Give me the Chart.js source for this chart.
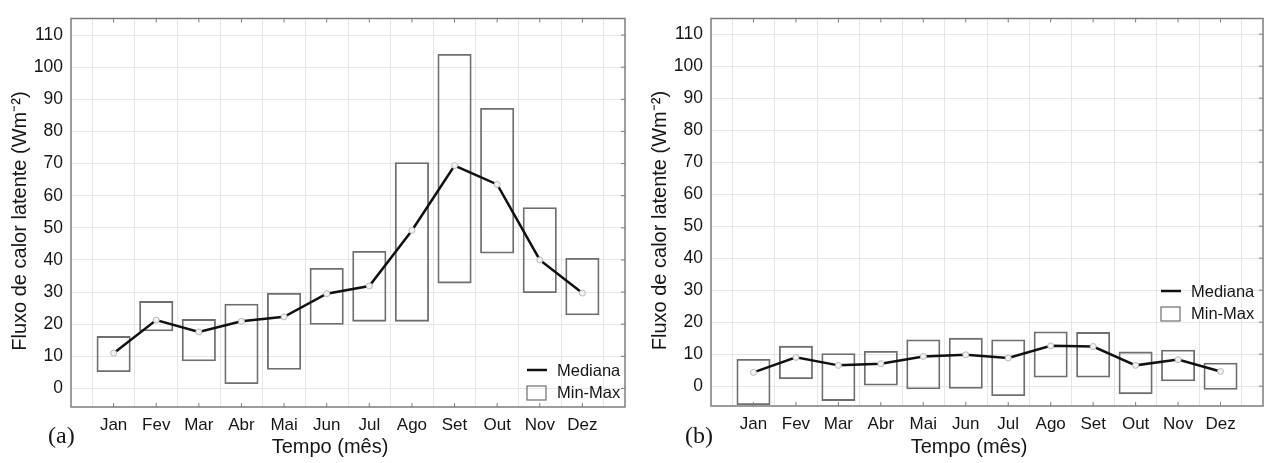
<!DOCTYPE html>
<html>
<head>
<meta charset="utf-8">
<script src="https://cdn.jsdelivr.net/npm/chart.js@4/dist/chart.umd.min.js"></script>
<style>
    body { margin: 0; background: #fff; width: 1267px; height: 463px; position: relative; overflow: hidden; }
    canvas { position: absolute; top: 0; }
    #chart-a { left: 0; }
    #chart-b { left: 640px; }
</style>
</head>
<body>
<canvas id="chart-a" width="633" height="463"></canvas>
<canvas id="chart-b" width="631" height="463"></canvas>
<script>
// Month labels and y ticks
const months = ['Jan', 'Fev', 'Mar', 'Abr', 'Mai', 'Jun', 'Jul', 'Ago', 'Set', 'Out', 'Nov', 'Dez'];
const yTicks = [0, 10, 20, 30, 40, 50, 60, 70, 80, 90, 100, 110];

// Panel (a) values
const minA = [5.1, 17.8, 8.5, 1.4, 5.8, 19.8, 20.8, 20.8, 32.7, 42.0, 29.7, 22.8];
const maxA = [16.3, 27.2, 21.6, 26.4, 29.7, 37.5, 42.8, 70.4, 104.1, 87.3, 56.4, 40.6];
const medA = [11.0, 21.3, 17.6, 20.9, 22.3, 29.5, 31.9, 49.2, 69.4, 63.5, 40.0, 29.7];

// Panel (b) values
const minB = [-5.9, 2.2, -4.6, 0.2, -1.0, -0.8, -3.1, 2.7, 2.7, -2.5, 1.5, -1.1];
const maxB = [8.5, 12.6, 10.3, 11.0, 14.6, 15.1, 14.6, 17.1, 16.9, 10.8, 11.4, 7.3];
const medB = [4.3, 9.0, 6.5, 7.0, 9.3, 9.8, 8.8, 12.6, 12.4, 6.5, 8.3, 4.6];

const textColor = '#161616';
const gridColor = '#e6e6e6';
const frameColor = '#7c7c7c';
const boxColor = '#6e6e6e';
const sans = '"Liberation Sans", Arial, sans-serif';

// empty slot on each side so Jan/Dez sit one full month from the frame
const labels = [''].concat(months, ['']);
function pad(arr) {
    return [null].concat(arr, [null]);
}

// frame, small inner ticks, x title, panel tag and the legend inside the plot
const panelText = {
    id: 'panelText',
    afterDraw(chart, args, opts) {
        const ctx = chart.ctx;
        const area = chart.chartArea;
        const xs = chart.scales.x;
        const ys = chart.scales.y;
        ctx.save();

        ctx.strokeStyle = frameColor;
        ctx.lineWidth = 1.5;
        ctx.strokeRect(area.left, area.top, area.right - area.left, area.bottom - area.top);

        // tick marks on top/bottom at months and on the right at y ticks
        ctx.lineWidth = 1;
        ctx.beginPath();
        for (let i = 1; i <= months.length; i++) {
            const px = xs.getPixelForValue(i);
            ctx.moveTo(px, area.top);
            ctx.lineTo(px, area.top + 4);
            ctx.moveTo(px, area.bottom);
            ctx.lineTo(px, area.bottom - 4);
        }
        yTicks.forEach(v => {
            const py = ys.getPixelForValue(v);
            ctx.moveTo(area.right, py);
            ctx.lineTo(area.right - 4, py);
        });
        ctx.stroke();

        ctx.fillStyle = textColor;
        ctx.textAlign = 'center';
        ctx.textBaseline = 'middle';
        ctx.font = '20px ' + sans;
        ctx.fillText('Tempo (mês)', (area.left + area.right) / 2 - 18, 447);

        ctx.textAlign = 'left';
        ctx.font = '24px "Liberation Serif", "Times New Roman", serif';
        ctx.fillText(opts.tag, opts.tagX, 437);

        // legend
        const tx = area.right - opts.legendRight;
        const y1 = area.bottom - opts.legendBottom;
        const y2 = y1 + 22;
        ctx.font = '16.5px ' + sans;
        ctx.fillText(chart.data.datasets[0].label, tx, y1);
        ctx.fillText(chart.data.datasets[1].label, tx, y2);
        ctx.strokeStyle = '#111';
        ctx.lineWidth = 2.5;
        ctx.beginPath();
        ctx.moveTo(tx - 30, y1 - 1);
        ctx.lineTo(tx - 10, y1 - 1);
        ctx.stroke();
        ctx.strokeStyle = boxColor;
        ctx.lineWidth = 1.2;
        ctx.strokeRect(tx - 30, y2 - 7, 19, 14);
        ctx.restore();
    }
};

function makeChart(canvasId, mins, maxs, meds, yMin, yMax, extra) {
    const ctx = document.getElementById(canvasId).getContext('2d');
    return new Chart(ctx, {
        type: 'bar',
        data: {
            labels: labels,
            datasets: [{
                type: 'line',
                label: 'Mediana',
                data: pad(meds),
                order: 0,
                borderColor: '#111',
                borderWidth: 2.5,
                tension: 0,
                pointRadius: 3,
                pointBackgroundColor: '#f2f2f2',
                pointBorderColor: '#b8b8b8',
                pointBorderWidth: 1
            }, {
                label: 'Min-Max',
                data: pad(mins.map((m, i) => [m, maxs[i]])),
                order: 1,
                backgroundColor: 'rgba(255,255,255,0)',
                borderColor: boxColor,
                borderWidth: 1.8,
                borderSkipped: false,
                barPercentage: 1,
                categoryPercentage: 0.8
            }]
        },
        options: {
            responsive: false,
            animation: false,
            devicePixelRatio: 1,
            layout: { padding: { top: extra.top, right: 0, left: 0, bottom: 0 } },
            plugins: {
                legend: { display: false },
                tooltip: { enabled: false },
                panelText: extra
            },
            scales: {
                x: {
                    offset: false,
                    afterFit: s => { s.height = 463 - extra.bottomEdge; },
                    grid: { color: gridColor, drawTicks: false },
                    border: { display: false },
                    ticks: {
                        color: textColor,
                        padding: 8,
                        autoSkip: false,
                        maxRotation: 0,
                        font: { family: sans, size: 17 }
                    }
                },
                y: {
                    min: yMin,
                    max: yMax,
                    afterFit: s => { s.width = 71; },
                    afterBuildTicks: s => { s.ticks = yTicks.map(v => ({ value: v })); },
                    grid: { color: gridColor, drawTicks: false },
                    border: { display: false },
                    ticks: {
                        color: textColor,
                        padding: 8,
                        font: { family: sans, size: 17.5 }
                    },
                    title: {
                        display: true,
                        // trailing spaces push the visible text a little lower, as in the original
                        text: 'Fluxo de calor latente (Wm⁻²)\u00a0\u00a0\u00a0',
                        color: textColor,
                        padding: { top: 8, bottom: 0 },
                        font: { family: sans, size: 20 }
                    }
                }
            }
        },
        plugins: [panelText]
    });
}

makeChart('chart-a', minA, maxA, medA, -5.76, 115.15,
    { top: 8, bottomEdge: 407, tag: '(a)', tagX: 48, legendRight: 68, legendBottom: 36 });
makeChart('chart-b', minB, maxB, medB, -6.2, 114.9,
    { top: 7, bottomEdge: 406, tag: '(b)', tagX: 45, legendRight: 72, legendBottom: 114 });
</script>
</body>
</html>
